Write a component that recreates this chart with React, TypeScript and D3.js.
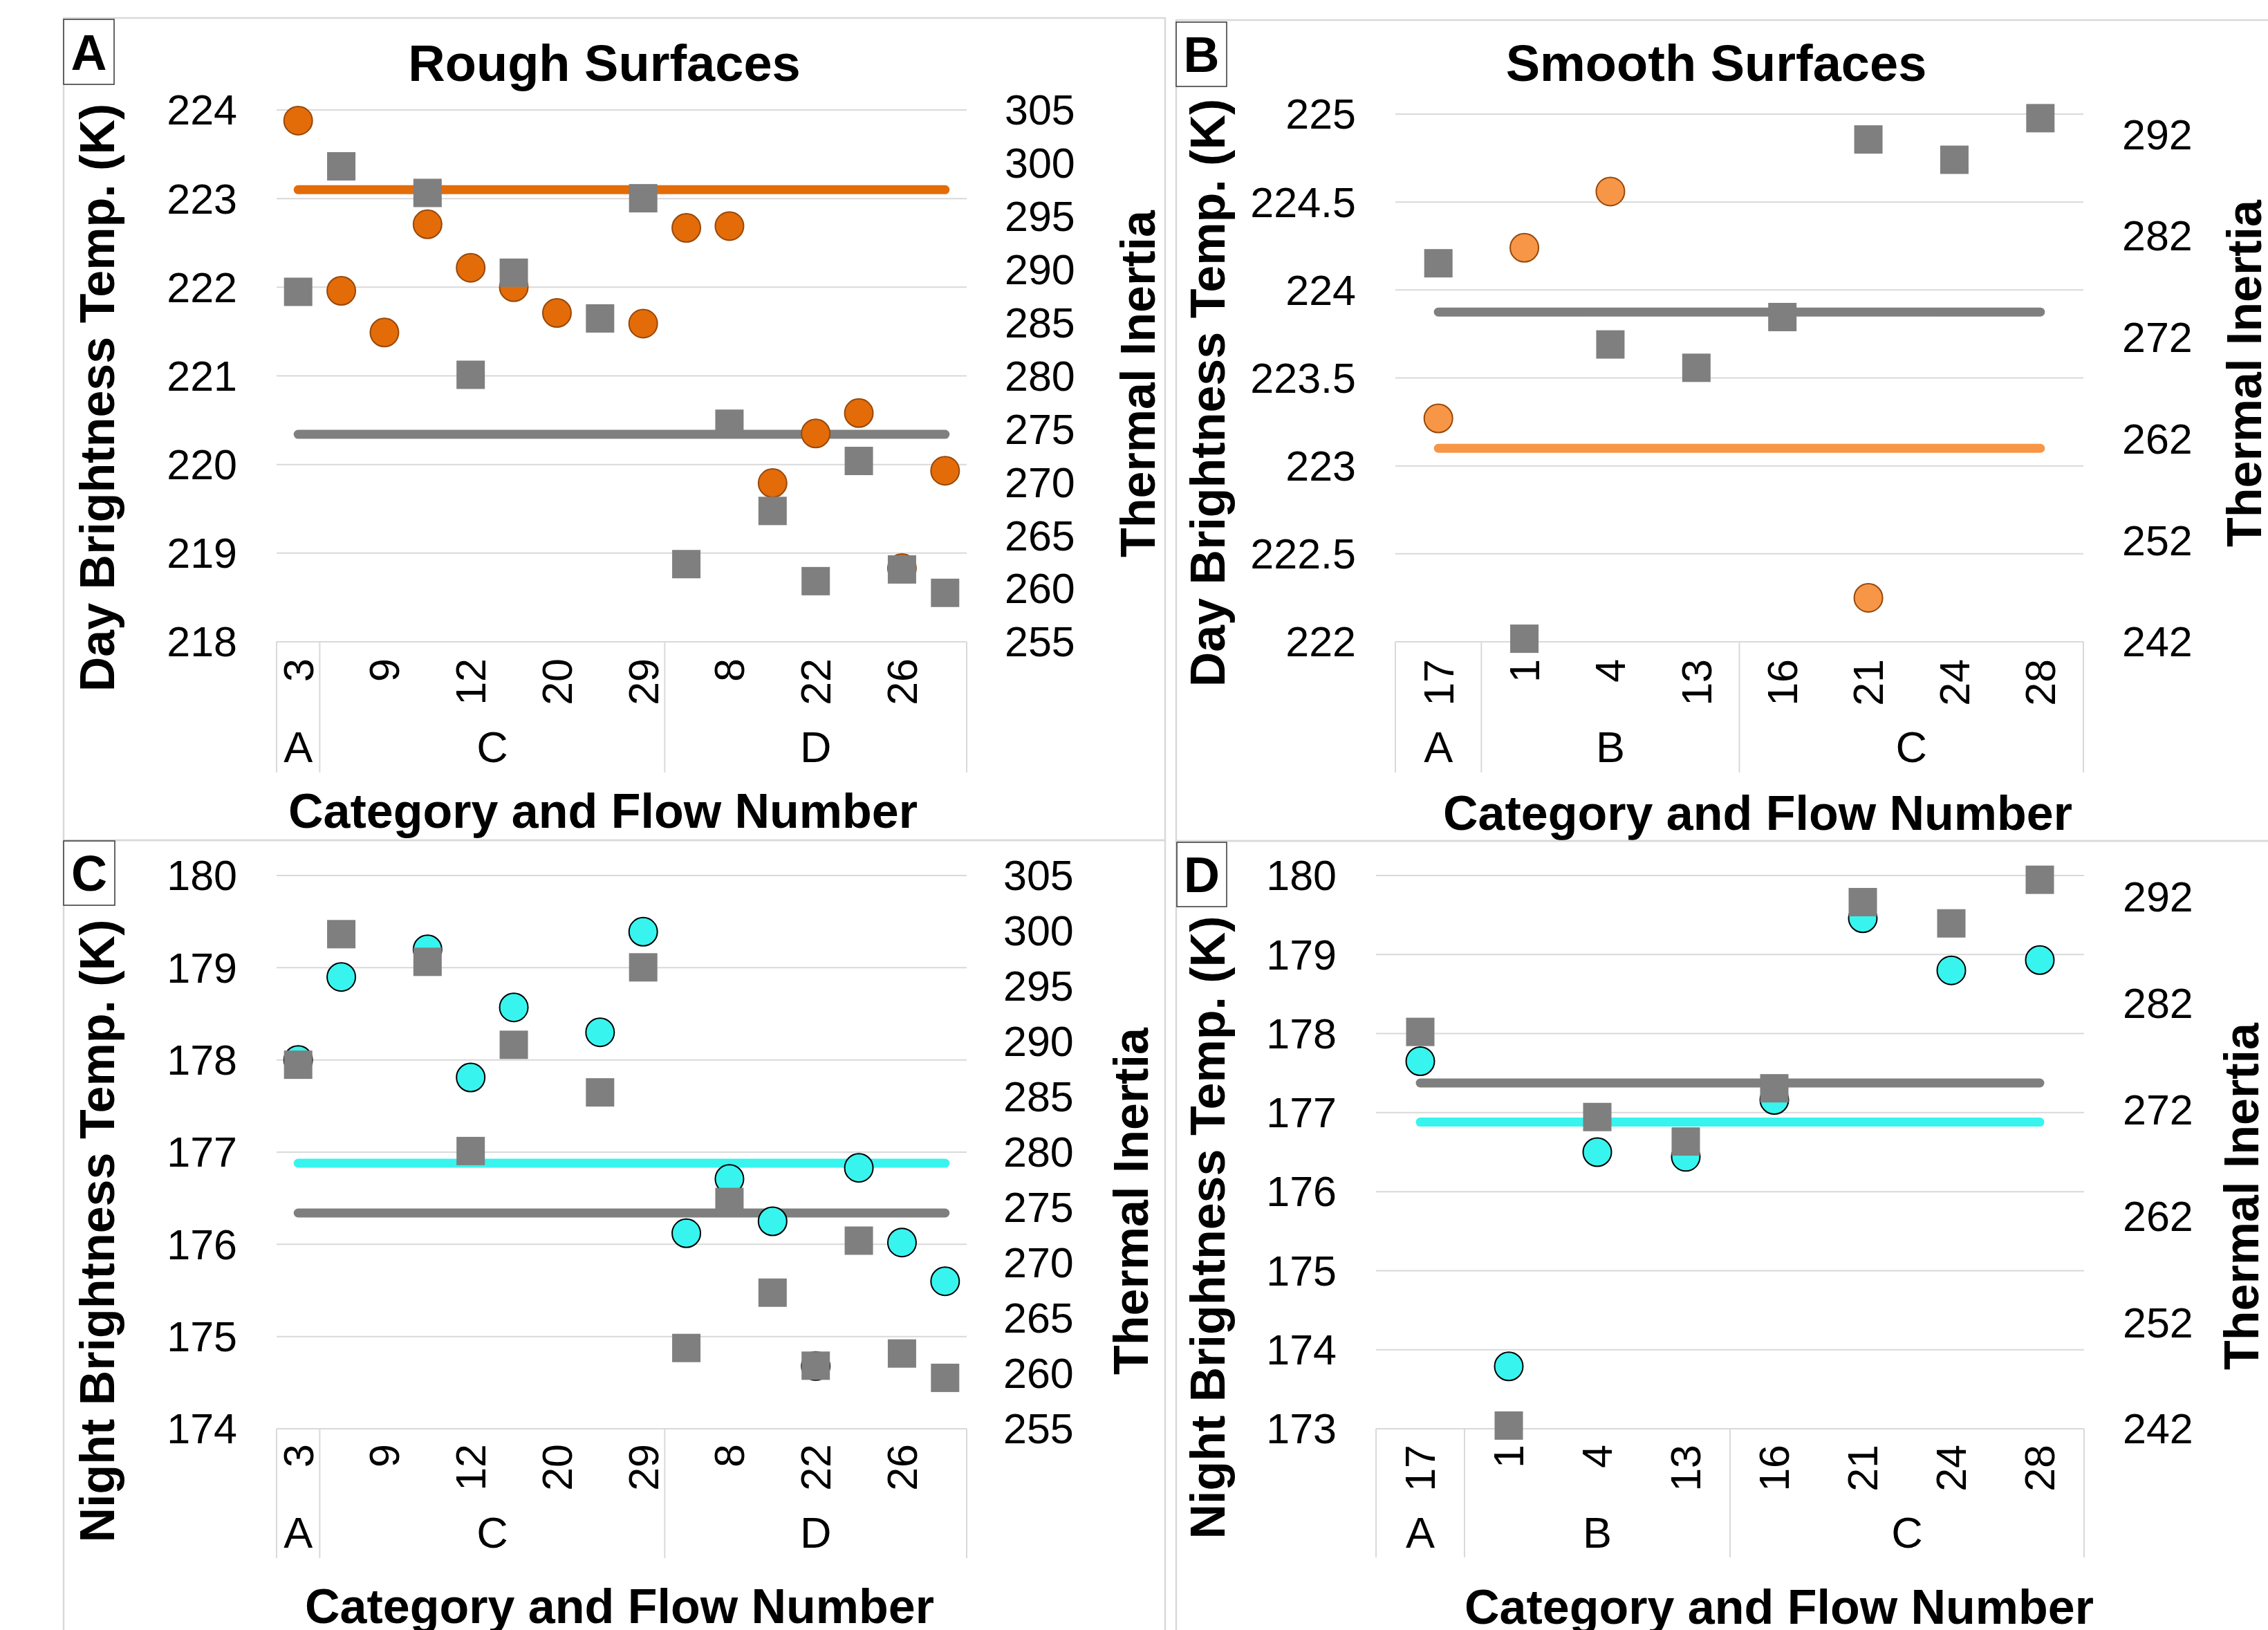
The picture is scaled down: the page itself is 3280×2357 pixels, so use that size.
import React from "react";
import * as d3 from "d3";

const W = 3280;
const H = 2357;
const FONT = "'Liberation Sans', Arial, sans-serif";

// rough surfaces, 16 flows (Excel printed only every other flow number)
const roughFlows = ["3", "", "9", "", "12", "", "20", "", "29", "", "8", "", "22", "", "26", ""];
const roughGroups = ["A", "C", "D"];
const roughGroupSizes = [1, 8, 7];
const roughDay = [223.88, 221.96, 221.49, 222.71, 222.22, 222.0, 221.71, null, 221.59, 222.67, 222.69, 219.79, 220.35, 220.58, 218.83, 219.93];
const roughNight = [178.0, 178.9, null, 179.2, 177.81, 178.57, null, 178.3, 179.39, 176.12, 176.71, 176.25, 174.68, 176.83, 176.02, 175.6];
const roughTI = [287.9, 299.7, null, 297.2, 280.1, 289.7, null, 285.4, 296.7, 262.3, 275.5, 267.3, 260.7, 272.0, 261.8, 259.6];

// smooth surfaces, 8 flows
const smoothFlows = ["17", "1", "4", "13", "16", "21", "24", "28"];
const smoothGroups = ["A", "B", "C"];
const smoothGroupSizes = [1, 3, 4];
const smoothDay = [223.27, 224.24, 224.56, null, null, 222.25, null, null];
const smoothNight = [177.65, 173.79, 176.5, 176.44, 177.16, 179.46, 178.8, 178.93];
const smoothTI = [279.3, 242.3, 271.3, 269.0, 274.0, 291.5, 289.5, 293.6];

// overall means (horizontal lines)
const meanDay = 223.1;
const meanNight = 176.88;
const meanTI = 274.5;

// tick labels
const roughDayTicks = [218, 219, 220, 221, 222, 223, 224];
const smoothDayTicks = [222, 222.5, 223, 223.5, 224, 224.5, 225];
const nightRoughTicks = [174, 175, 176, 177, 178, 179, 180];
const nightSmoothTicks = [173, 174, 175, 176, 177, 178, 179, 180];
const roughTITicks = [255, 260, 265, 270, 275, 280, 285, 290, 295, 300, 305];
const smoothTITicks = [242, 252, 262, 272, 282, 292];

const GRID = "#d9d9d9";
const GRAY = "#7f7f7f";

function Panel(p: any) {
  const n = p.flows.length;
  const x = d3.scaleBand<number>().domain(d3.range(n)).range([p.x0, p.x1]);
  const cx = (i: number) => (x(i) as number) + x.bandwidth() / 2;
  const yL = d3.scaleLinear().domain(p.leftDomain).range([p.yBot, p.yTop]);
  const yR = d3.scaleLinear().domain(p.rightDomain).range([p.yBot, p.yTop]);
  const meanPath = (y: number) =>
    d3.line<number>().x((i) => cx(i)).y(() => y)([0, n - 1]) as string;

  // group boundaries
  const bounds = [0, ...d3.cumsum(p.groupSizes)];
  const bx = (k: number) => p.x0 + k * x.step();

  return (
    <g fontFamily={FONT}>
      <rect x={p.box[0]} y={p.box[1]} width={p.box[2]} height={p.box[3]} fill="none" stroke={GRID} strokeWidth={2.5} />
      <rect x={p.tag[0]} y={p.tag[1]} width={p.tag[2]} height={p.tag[3]} fill="#fff" stroke="#404040" strokeWidth={1.6} />
      <text x={p.tag[0] + p.tag[2] / 2} y={p.tag[1] + p.tag[3] / 2} dy="0.36em" textAnchor="middle" fontWeight="bold" fontSize={72}>
        {p.tagText}
      </text>
      {p.title && (
        <text x={p.title[0]} y={p.title[1]} textAnchor="middle" fontWeight="bold" fontSize={74}>
          {p.title[2]}
        </text>
      )}
      {/* gridlines */}
      {p.leftTicks.map((t: number) => (
        <line key={t} x1={p.x0} x2={p.x1} y1={yL(t)} y2={yL(t)} stroke={GRID} strokeWidth={2} />
      ))}
      {p.leftTicks.map((t: number) => (
        <text key={t} x={p.leftTickX} y={yL(t)} dy="0.35em" textAnchor="end" fontSize={61}>
          {t}
        </text>
      ))}
      {p.rightTicks.map((t: number) => (
        <text key={t} x={p.rightTickX} y={yR(t)} dy="0.35em" textAnchor="start" fontSize={61}>
          {t}
        </text>
      ))}
      {/* category axis */}
      {bounds.map((b: number, k: number) => (
        <line key={k} x1={bx(b)} x2={bx(b)} y1={p.yBot} y2={p.sepBottom} stroke={GRID} strokeWidth={2} />
      ))}
      {p.flows.map((f: string, i: number) =>
        f ? (
          <text key={i} transform={`translate(${cx(i)},${p.catTop}) rotate(-90)`} dy="0.35em" textAnchor="end" fontSize={61}>
            {f}
          </text>
        ) : null
      )}
      {p.groups.map((g: string, k: number) => (
        <text key={g} x={(bx(bounds[k]) + bx(bounds[k + 1])) / 2} y={p.groupBase} textAnchor="middle" fontSize={63}>
          {g}
        </text>
      ))}
      {/* mean lines */}
      <path d={meanPath(yL(p.meanL))} stroke={p.fill} strokeWidth={13} strokeLinecap="round" fill="none" />
      <path d={meanPath(yR(meanTI))} stroke={GRAY} strokeWidth={13} strokeLinecap="round" fill="none" />
      {/* temperatures */}
      {p.temps.map((v: number | null, i: number) =>
        v == null ? null : <circle key={i} cx={cx(i)} cy={yL(v)} r={20.5} fill={p.fill} stroke={p.stroke} strokeWidth={2} />
      )}
      {/* thermal inertia */}
      {p.ti.map((v: number | null, i: number) =>
        v == null ? null : <rect key={i} x={cx(i) - 20.5} y={yR(v) - 20.5} width={41} height={41} fill={GRAY} />
      )}
      <text transform={`translate(${p.leftTitle[0]},${p.leftTitle[1]}) rotate(-90)`} textAnchor="middle" fontWeight="bold" fontSize={70}>
        {p.leftTitle[2]}
      </text>
      <text transform={`translate(${p.rightTitle[0]},${p.rightTitle[1]}) rotate(-90)`} textAnchor="middle" fontWeight="bold" fontSize={70}>
        Thermal Inertia
      </text>
      <text x={p.xTitle[0]} y={p.xTitle[1]} textAnchor="middle" fontWeight="bold" fontSize={70}>
        Category and Flow Number
      </text>
    </g>
  );
}

export default function App() {
  return (
    <div style={{ position: "absolute", left: 0, top: 0 }}>
      <svg width={W} height={H} style={{ display: "block", background: "#fff" }}>
        <Panel
          box={[92, 26, 1593, 1189]}
          tag={[92, 28, 73, 94]}
          tagText="A"
          title={[874, 117, "Rough Surfaces"]}
          flows={roughFlows}
          groups={roughGroups}
          groupSizes={roughGroupSizes}
          temps={roughDay}
          ti={roughTI}
          meanL={meanDay}
          fill="#e36c09"
          stroke="#97480b"
          x0={400}
          x1={1398}
          yTop={159}
          yBot={928}
          leftDomain={[218, 224]}
          rightDomain={[255, 305]}
          leftTicks={roughDayTicks}
          rightTicks={roughTITicks}
          leftTickX={343}
          rightTickX={1453}
          catTop={952}
          groupBase={1102}
          sepBottom={1117}
          leftTitle={[165, 575, "Day Brightness Temp. (K)"]}
          rightTitle={[1670, 555]}
          xTitle={[872, 1197]}
        />
        <Panel
          box={[1701, 29, 1700, 1187]}
          tag={[1701, 32, 73, 93]}
          tagText="B"
          title={[2482, 117, "Smooth Surfaces"]}
          flows={smoothFlows}
          groups={smoothGroups}
          groupSizes={smoothGroupSizes}
          temps={smoothDay}
          ti={smoothTI}
          meanL={meanDay}
          fill="#f79646"
          stroke="#97480b"
          x0={2018}
          x1={3013}
          yTop={165}
          yBot={928}
          leftDomain={[222, 225]}
          rightDomain={[242, 294]}
          leftTicks={smoothDayTicks}
          rightTicks={smoothTITicks}
          leftTickX={1961}
          rightTickX={3069}
          catTop={953}
          groupBase={1102}
          sepBottom={1117}
          leftTitle={[1771, 568, "Day Brightness Temp. (K)"]}
          rightTitle={[3270, 540]}
          xTitle={[2542, 1200]}
        />
        <Panel
          box={[92, 1215, 1593, 1300]}
          tag={[92, 1216, 74, 93]}
          tagText="C"
          flows={roughFlows}
          groups={roughGroups}
          groupSizes={roughGroupSizes}
          temps={roughNight}
          ti={roughTI}
          meanL={meanNight}
          fill="#38f4ee"
          stroke="#000"
          x0={400}
          x1={1398}
          yTop={1266}
          yBot={2066}
          leftDomain={[174, 180]}
          rightDomain={[255, 305]}
          leftTicks={nightRoughTicks}
          rightTicks={roughTITicks}
          leftTickX={343}
          rightTickX={1451}
          catTop={2088}
          groupBase={2238}
          sepBottom={2253}
          leftTitle={[165, 1780, "Night Brightness Temp. (K)"]}
          rightTitle={[1660, 1737]}
          xTitle={[896, 2347]}
        />
        <Panel
          box={[1701, 1216, 1700, 1300]}
          tag={[1702, 1218, 72, 93]}
          tagText="D"
          flows={smoothFlows}
          groups={smoothGroups}
          groupSizes={smoothGroupSizes}
          temps={smoothNight}
          ti={smoothTI}
          meanL={meanNight}
          fill="#38f4ee"
          stroke="#000"
          x0={1990}
          x1={3014}
          yTop={1266}
          yBot={2066}
          leftDomain={[173, 180]}
          rightDomain={[242, 294]}
          leftTicks={nightSmoothTicks}
          rightTicks={smoothTITicks}
          leftTickX={1933}
          rightTickX={3070}
          catTop={2089}
          groupBase={2238}
          sepBottom={2252}
          leftTitle={[1771, 1775, "Night Brightness Temp. (K)"]}
          rightTitle={[3266, 1730]}
          xTitle={[2573, 2348]}
        />
      </svg>
    </div>
  );
}
